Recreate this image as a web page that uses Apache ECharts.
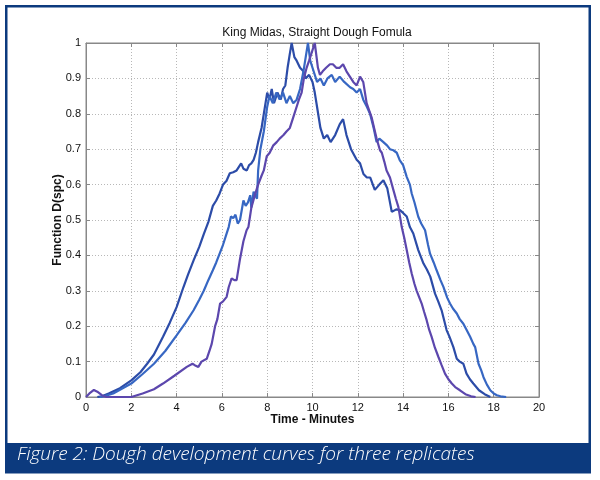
<!DOCTYPE html>
<html>
<head>
<meta charset="utf-8">
<script src="https://cdn.jsdelivr.net/npm/echarts@6/dist/echarts.min.js"></script>
<style>
html,body{margin:0;padding:0;background:#fff;}
#chart{width:600px;height:480px;}
</style>
</head>
<body>
<div id="chart"></div>
<script>
// ---- data ----
var chartTitle = 'King Midas, Straight Dough Fomula';
var xAxisName = 'Time - Minutes';
var yAxisName = 'Function D(spc)';
var caption = 'Figure 2: Dough development curves for three replicates';
var xTicks = [0, 2, 4, 6, 8, 10, 12, 14, 16, 18, 20];
var yTicks = [0, 0.1, 0.2, 0.3, 0.4, 0.5, 0.6, 0.7, 0.8, 0.9, 1];

// replicate 1 (dark blue)
var replicate1 = [[0.5,0],[0.7,0.002],[1.0,0.01],[1.5,0.025],[2.0,0.047],[2.4,0.07],[2.7,0.094],[3.0,0.12],[3.4,0.17],[3.7,0.21],[4.0,0.254],[4.3,0.31],[4.5,0.345],[4.75,0.386],[5.0,0.424],[5.2,0.46],[5.4,0.494],[5.6,0.54],[5.75,0.555],[5.9,0.575],[6.05,0.6],[6.2,0.61],[6.35,0.632],[6.5,0.635],[6.65,0.64],[6.85,0.66],[6.95,0.645],[7.1,0.64],[7.2,0.655],[7.3,0.66],[7.4,0.67],[7.5,0.69],[7.6,0.72],[7.75,0.76],[7.85,0.8],[8.0,0.86],[8.1,0.84],[8.2,0.87],[8.3,0.83],[8.45,0.86],[8.6,0.84],[8.7,0.87],[8.8,0.88],[8.9,0.93],[9.0,0.97],[9.08,1.0],[9.2,0.96],[9.3,0.95],[9.45,0.93],[9.6,0.92],[9.7,0.9],[9.85,0.91],[10.0,0.89],[10.1,0.86],[10.2,0.82],[10.35,0.76],[10.5,0.73],[10.65,0.74],[10.8,0.72],[11.0,0.74],[11.2,0.77],[11.35,0.785],[11.5,0.74],[11.7,0.70],[11.95,0.67],[12.1,0.66],[12.25,0.63],[12.4,0.62],[12.55,0.62],[12.75,0.585],[12.95,0.6],[13.13,0.612],[13.3,0.59],[13.5,0.523],[13.7,0.53],[13.86,0.528],[14.0,0.52],[14.16,0.51],[14.3,0.48],[14.45,0.462],[14.67,0.415],[14.9,0.377],[15.05,0.36],[15.2,0.34],[15.41,0.292],[15.55,0.27],[15.7,0.245],[15.92,0.189],[16.05,0.17],[16.22,0.141],[16.37,0.108],[16.5,0.1],[16.66,0.094],[16.8,0.066],[16.95,0.05],[17.1,0.038],[17.35,0.019],[17.6,0.008],[17.85,0]];

// replicate 2 (lighter blue)
var replicate2 = [[0.6,0],[0.8,0.002],[1.2,0.01],[1.6,0.024],[2.0,0.038],[2.5,0.065],[3.0,0.094],[3.5,0.13],[4.0,0.174],[4.4,0.21],[4.75,0.245],[5.0,0.275],[5.2,0.3],[5.4,0.33],[5.6,0.358],[5.75,0.38],[5.9,0.405],[6.05,0.43],[6.2,0.46],[6.3,0.48],[6.4,0.51],[6.5,0.505],[6.6,0.515],[6.7,0.49],[6.8,0.5],[6.95,0.555],[7.05,0.54],[7.15,0.55],[7.25,0.57],[7.3,0.535],[7.4,0.58],[7.55,0.56],[7.6,0.64],[7.7,0.70],[7.85,0.75],[8.0,0.82],[8.1,0.85],[8.25,0.83],[8.4,0.86],[8.55,0.84],[8.7,0.86],[8.85,0.83],[9.0,0.85],[9.15,0.83],[9.3,0.84],[9.45,0.87],[9.6,0.92],[9.7,0.96],[9.8,1.0],[9.9,0.95],[10.0,0.93],[10.2,0.89],[10.35,0.9],[10.5,0.88],[10.66,0.9],[10.85,0.91],[11.0,0.89],[11.2,0.905],[11.4,0.89],[11.66,0.875],[11.8,0.87],[11.95,0.86],[12.1,0.87],[12.24,0.84],[12.4,0.82],[12.54,0.8],[12.7,0.76],[12.83,0.72],[12.95,0.73],[13.13,0.72],[13.3,0.71],[13.42,0.70],[13.57,0.697],[13.72,0.69],[13.85,0.669],[14.0,0.655],[14.16,0.622],[14.3,0.6],[14.38,0.575],[14.5,0.55],[14.67,0.509],[14.8,0.49],[14.97,0.471],[15.1,0.43],[15.19,0.405],[15.35,0.38],[15.48,0.358],[15.65,0.33],[15.78,0.311],[15.95,0.28],[16.07,0.264],[16.2,0.25],[16.37,0.236],[16.5,0.22],[16.66,0.207],[16.8,0.19],[16.96,0.17],[17.1,0.15],[17.18,0.141],[17.33,0.094],[17.45,0.075],[17.55,0.056],[17.7,0.035],[17.85,0.019],[18.0,0.01],[18.14,0.005],[18.3,0.002],[18.55,0]];

// replicate 3 (purple)
var replicate3 = [[0,0],[0.15,0.01],[0.35,0.02],[0.5,0.015],[0.7,0.005],[0.9,0],[2.0,0],[2.5,0.01],[3.0,0.022],[3.4,0.038],[3.9,0.06],[4.45,0.085],[4.7,0.094],[4.8,0.09],[4.96,0.085],[5.1,0.1],[5.33,0.108],[5.45,0.13],[5.55,0.15],[5.7,0.2],[5.8,0.22],[5.92,0.264],[6.05,0.27],[6.21,0.283],[6.3,0.31],[6.43,0.335],[6.55,0.33],[6.65,0.33],[6.8,0.39],[6.95,0.44],[7.09,0.471],[7.17,0.48],[7.3,0.535],[7.39,0.555],[7.45,0.57],[7.6,0.6],[7.75,0.625],[7.85,0.64],[7.98,0.68],[8.11,0.69],[8.26,0.71],[8.42,0.72],[8.55,0.73],[8.72,0.74],[8.85,0.75],[9.0,0.76],[9.15,0.79],[9.3,0.82],[9.4,0.84],[9.52,0.86],[9.62,0.9],[9.74,0.93],[9.85,0.95],[9.95,0.97],[10.1,1.0],[10.24,0.93],[10.33,0.91],[10.45,0.92],[10.6,0.93],[10.77,0.94],[10.9,0.94],[11.05,0.93],[11.2,0.93],[11.35,0.94],[11.5,0.92],[11.65,0.905],[11.8,0.89],[11.95,0.88],[12.1,0.905],[12.24,0.89],[12.39,0.83],[12.5,0.81],[12.61,0.79],[12.72,0.76],[12.83,0.73],[12.98,0.697],[13.06,0.69],[13.17,0.665],[13.27,0.64],[13.42,0.62],[13.57,0.585],[13.68,0.56],[13.79,0.537],[13.94,0.48],[14.05,0.45],[14.16,0.415],[14.27,0.38],[14.38,0.349],[14.5,0.32],[14.6,0.3],[14.82,0.264],[14.93,0.24],[15.04,0.217],[15.15,0.19],[15.26,0.17],[15.4,0.14],[15.56,0.113],[15.7,0.09],[15.85,0.066],[16.0,0.05],[16.15,0.038],[16.3,0.028],[16.51,0.019],[16.75,0.008],[17.0,0.002],[17.2,0]];

var seriesNames = ['Replicate 1', 'Replicate 2', 'Replicate 3'];
var seriesColors = ['#2c4ca8', '#3767c3', '#5c47ad'];

// ---- chart ----
var chart = echarts.init(document.getElementById('chart'), null, {renderer: 'canvas'});
var font = 'Liberation Sans, Arial, sans-serif';
var navy = '#0c3a7e';

function lineSeries(name, data, color) {
  return {
    name: name, type: 'line', data: data, showSymbol: false, symbol: 'none',
    lineStyle: {color: color, width: 2.2}, itemStyle: {color: color},
    animation: false, silent: true
  };
}

var option = {
  backgroundColor: '#ffffff',
  animation: false,
  title: {
    text: chartTitle, left: 312, top: 22, textAlign: 'center',
    textStyle: {fontFamily: font, fontSize: 12, fontWeight: 'normal', color: '#111'}
  },
  grid: {left: 86, top: 43, width: 453, height: 354, show: true, borderColor: '#888', borderWidth: 1, backgroundColor: '#fff'},
  xAxis: [{
    type: 'value', min: 0, max: 20, interval: 2, position: 'bottom',
    name: xAxisName, nameLocation: 'middle', nameGap: 17, nameMoveOverlap: false,
    nameTextStyle: {fontFamily: font, fontSize: 12, fontWeight: 'bold', color: '#111'},
    axisLine: {show: true, onZero: false, lineStyle: {color: '#888', width: 1}},
    axisTick: {show: true, inside: true, length: 4, lineStyle: {color: '#888'}},
    axisLabel: {fontFamily: font, fontSize: 11, color: '#111', margin: 5,
      formatter: function (v) { return xTicks.indexOf(v) >= 0 ? String(v) : ''; }},
    splitLine: {show: true, lineStyle: {color: '#b8b8b8', type: [1, 2], width: 1}}
  }, {
    type: 'value', min: 0, max: 20, interval: 2, position: 'top',
    axisLine: {show: true, onZero: false, lineStyle: {color: '#888'}},
    axisTick: {show: true, inside: true, length: 4, lineStyle: {color: '#888'}},
    axisLabel: {show: false}, splitLine: {show: false}
  }],
  yAxis: [{
    type: 'value', min: 0, max: 1, interval: 0.1, position: 'left',
    name: yAxisName, nameLocation: 'middle', nameGap: 22, nameRotate: 90, nameMoveOverlap: false,
    nameTextStyle: {fontFamily: font, fontSize: 12, fontWeight: 'bold', color: '#111'},
    axisLine: {show: true, onZero: false, lineStyle: {color: '#888', width: 1}},
    axisTick: {show: true, inside: true, length: 4, lineStyle: {color: '#888'}},
    axisLabel: {fontFamily: font, fontSize: 11, color: '#111', margin: 5,
      formatter: function (v) {
        var r = Math.round(v * 10) / 10;
        return yTicks.indexOf(r) >= 0 ? String(r) : '';
      }},
    splitLine: {show: true, lineStyle: {color: '#b8b8b8', type: [1, 2], width: 1}}
  }, {
    type: 'value', min: 0, max: 1, interval: 0.1, position: 'right',
    axisLine: {show: true, onZero: false, lineStyle: {color: '#888'}},
    axisTick: {show: true, inside: true, length: 4, lineStyle: {color: '#888'}},
    axisLabel: {show: false}, splitLine: {show: false}
  }],
  series: [
    lineSeries(seriesNames[0], replicate1, seriesColors[0]),
    lineSeries(seriesNames[1], replicate2, seriesColors[1]),
    lineSeries(seriesNames[2], replicate3, seriesColors[2])
  ],
  graphic: [
    {type: 'rect', z: -10, silent: true,
      shape: {x: 6.25, y: 6.25, width: 583.5, height: 466},
      style: {fill: 'none', stroke: navy, lineWidth: 2.5}},
    {type: 'rect', z: 100, silent: true,
      shape: {x: 5, y: 443, width: 586, height: 30},
      style: {fill: navy}},
    {type: 'text', z: 101, silent: true, left: 17, top: 445,
      style: {text: caption, fill: '#ffffff', font: 'italic 300 19px "Open Sans", Lato, sans-serif'}}
  ]
};
chart.setOption(option);
</script>
</body>
</html>
